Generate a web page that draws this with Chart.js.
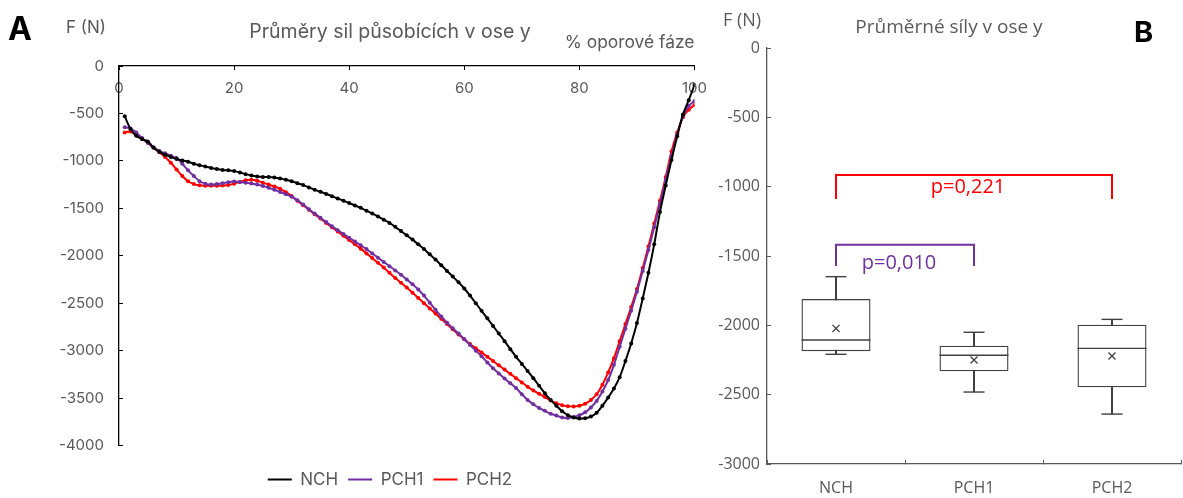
<!DOCTYPE html>
<html lang="cs">
<head>
<meta charset="UTF-8">
<title>Průměry sil v ose y</title>
<script src="https://cdn.jsdelivr.net/npm/chart.js"></script>
<style>
    body { margin: 0; background: #fff; }
    .wrap { position: relative; width: 1183px; height: 498px; overflow: hidden; }
    #chartA { position: absolute; left: 0; top: 0; }
    #chartB { position: absolute; left: 700px; top: 0; }
    .txt { position: absolute; white-space: nowrap; line-height: 1; }
    .panel { font-family: Inter, sans-serif; font-weight: 700; color: #000; }
</style>
</head>
<body>
<div class="wrap">
    <canvas id="chartB" width="483" height="498"></canvas>
    <canvas id="chartA" width="720" height="498"></canvas>
    <div class="txt panel" style="left:8px; top:12.6px; font-size:32px;">A</div>
    <div class="txt panel" style="left:1134px; top:17px; font-size:29px;">B</div>
    <div class="txt" style="left:66px; top:17.3px; font:17px Inter, sans-serif; color:#595959;">F (N)</div>
    <div class="txt" style="left:723px; top:7.3px; font:18px 'Open Sans', sans-serif; color:#595959;">F (N)</div>
</div>

<script>
// ---- graf A: průběh sil během opory (% oporové fáze) ----
const pct = [1,2,3,4,5,6,7,8,9,10,11,12,13,14,15,16,17,18,19,20,
    21,22,23,24,25,26,27,28,29,30,31,32,33,34,35,36,37,38,39,40,
    41,42,43,44,45,46,47,48,49,50,51,52,53,54,55,56,57,58,59,60,
    61,62,63,64,65,66,67,68,69,70,71,72,73,74,75,76,77,78,79,80,
    81,82,83,84,85,86,87,88,89,90,91,92,93,94,95,96,97,98,99,100];

const nch = [-530,-665,-735,-770,-795,-860,-905,-935,-960,-980,
    -995,-1010,-1030,-1045,-1060,-1075,-1085,-1095,-1100,-1108,
    -1122,-1140,-1155,-1165,-1170,-1170,-1174,-1185,-1200,-1215,
    -1235,-1255,-1280,-1305,-1325,-1348,-1372,-1396,-1420,-1445,
    -1470,-1495,-1525,-1555,-1585,-1620,-1655,-1695,-1740,-1785,
    -1830,-1880,-1930,-1985,-2040,-2100,-2160,-2220,-2280,-2345,
    -2420,-2500,-2580,-2660,-2740,-2820,-2900,-2985,-3065,-3140,
    -3215,-3290,-3370,-3450,-3520,-3580,-3640,-3680,-3705,-3715,
    -3712,-3695,-3655,-3580,-3495,-3400,-3280,-3110,-2925,-2710,
    -2450,-2180,-1880,-1540,-1260,-990,-740,-510,-360,-200];

const pch1 = [-645,-660,-700,-760,-810,-860,-895,-920,-945,-970,
    -1030,-1100,-1160,-1215,-1240,-1250,-1245,-1235,-1225,-1218,
    -1222,-1230,-1238,-1250,-1265,-1283,-1305,-1328,-1352,-1378,
    -1415,-1460,-1510,-1555,-1600,-1645,-1690,-1730,-1770,-1810,
    -1850,-1890,-1930,-1975,-2020,-2065,-2110,-2155,-2200,-2250,
    -2300,-2355,-2420,-2495,-2570,-2640,-2705,-2765,-2820,-2880,
    -2940,-3000,-3060,-3125,-3185,-3240,-3295,-3345,-3395,-3460,
    -3520,-3565,-3605,-3635,-3665,-3685,-3705,-3710,-3700,-3680,
    -3650,-3600,-3530,-3430,-3310,-3150,-2960,-2770,-2580,-2380,
    -2160,-1940,-1700,-1450,-1200,-950,-720,-530,-420,-370];

const pch2 = [-700,-690,-730,-770,-810,-860,-910,-960,-1020,-1090,
    -1160,-1215,-1245,-1258,-1262,-1263,-1262,-1260,-1255,-1240,
    -1222,-1205,-1200,-1210,-1230,-1250,-1270,-1295,-1330,-1370,
    -1420,-1468,-1515,-1562,-1608,-1655,-1700,-1745,-1790,-1835,
    -1880,-1925,-1975,-2025,-2075,-2125,-2180,-2235,-2285,-2335,
    -2390,-2445,-2500,-2555,-2610,-2665,-2720,-2775,-2830,-2880,
    -2930,-2975,-3020,-3065,-3110,-3155,-3200,-3245,-3290,-3335,
    -3380,-3420,-3455,-3490,-3525,-3555,-3575,-3585,-3588,-3580,
    -3560,-3520,-3460,-3360,-3230,-3080,-2900,-2720,-2540,-2350,
    -2130,-1900,-1660,-1420,-1170,-900,-700,-540,-460,-410];

const seriesNames = ['NCH', 'PCH1', 'PCH2'];
const seriesColors = ['#000000', '#7030A0', '#FF0000'];

// ---- graf B: krabicové grafy průměrných sil ----
const groups = ['NCH', 'PCH1', 'PCH2'];
const boxMin = [-2209, -2481, -2640];
const boxQ1 = [-2187, -2332, -2447];
const boxMedian = [-2106, -2216, -2166];
const boxQ3 = [-1810, -2147, -1995];
const boxMax = [-1649, -2050, -1957];
const boxMean = [-2022, -2250, -2221];

// p-hodnoty (závorky)
const sigFrom = ['NCH', 'NCH'];
const sigTo = ['PCH2', 'PCH1'];
const sigTop = [-916, -1418];
const sigLeg = [-1089, -1572];
const sigText = ['p=0,221', 'p=0,010'];
const sigTextY = [-1005, -1550];
const sigColors = ['#FF0000', '#7030A0'];

const gray = '#595959';
const fontA = 'Inter';
const fontB = 'Open Sans';
const plainNum = v => String(v);   // bez oddělovače tisíců

// popisky osy y se jinak ořezávají na šířku osy
const widenYLabels = {
    id: 'widenYLabels',
    afterLayout(chart) { chart.scales.y.left = 0; }
};

// ---------- A ----------
const lineSets = [nch, pch1, pch2].map((vals, i) => ({
    label: seriesNames[i],
    data: pct.map((p, j) => ({x: p, y: vals[j]})),
    borderColor: seriesColors[i],
    backgroundColor: seriesColors[i],
    borderWidth: 2,
    pointRadius: 2,
    pointHoverRadius: 2,
    pointBorderWidth: 0,
    tension: 0.3
}));

new Chart(document.getElementById('chartA'), {
    type: 'line',
    data: { datasets: lineSets },
    plugins: [widenYLabels],
    options: {
        responsive: false,
        animation: false,
        events: [],
        layout: { autoPadding: false, padding: { left: 82, right: 22, top: 0, bottom: 0 } },
        plugins: {
            title: {
                display: true,
                text: 'Průměry sil působících v ose y',
                color: gray,
                font: { family: fontA, size: 19.5, weight: 'normal' },
                padding: { top: 20.3, bottom: -11.1 }
            },
            legend: {
                position: 'bottom',
                title: { display: true, text: ' ', font: { size: 10 }, padding: { top: 0, bottom: 3.5 } },
                labels: {
                    usePointStyle: true,
                    pointStyle: 'line',
                    pointStyleWidth: 24,
                    padding: 10,
                    color: gray,
                    font: { family: fontA, size: 17 },
                    generateLabels: chart => Chart.defaults.plugins.legend.labels.generateLabels(chart)
                        .map(item => Object.assign(item, { lineWidth: 2 }))
                }
            },
            tooltip: { enabled: false }
        },
        scales: {
            x: {
                type: 'linear',
                position: 'top',
                min: 0,
                max: 100,
                ticks: { stepSize: 20, mirror: true, padding: 13, color: gray, font: { family: fontA, size: 15 } },
                grid: { drawOnChartArea: false, tickLength: -4, color: '#000' },
                border: { color: '#000', width: 1.3 },
                title: {
                    display: true,
                    text: '% oporové fáze',
                    align: 'end',
                    color: gray,
                    font: { family: fontA, size: 17.4 },
                    padding: { top: 0, bottom: 0 }
                },
                afterFit: s => { s.height = 33.4; }
            },
            y: {
                min: -4000,
                max: 0,
                ticks: { stepSize: 500, padding: 19, color: gray, font: { family: fontA, size: 15 }, callback: plainNum },
                grid: { drawOnChartArea: false, tickLength: -4, color: '#000' },
                border: { color: '#000', width: 1.3 },
                afterFit: s => { s.width = 37; }
            }
        }
    }
});

// ---------- B ----------
const boxLine = '#404040';

const bracketSets = sigText.map((t, i) => ({
    type: 'line',
    label: t,
    data: [
        {x: sigFrom[i], y: sigLeg[i]},
        {x: sigFrom[i], y: sigTop[i]},
        {x: sigTo[i], y: sigTop[i]},
        {x: sigTo[i], y: sigLeg[i]}
    ],
    borderColor: sigColors[i],
    borderWidth: 2,
    pointRadius: 0,
    tension: 0
}));

const pointMark = (label, data, style, radius, width) => ({
    type: 'line',
    label: label,
    data: data,
    showLine: false,
    pointStyle: style,
    pointRadius: radius,
    pointHoverRadius: radius,
    pointBorderWidth: width,
    borderColor: boxLine,
    backgroundColor: boxLine
});

const sigLabelPlugin = {
    id: 'sigLabels',
    afterDatasetsDraw(chart) {
        const {ctx, scales: {x, y}} = chart;
        ctx.save();
        ctx.font = '20px "' + fontB + '"';
        ctx.textAlign = 'center';
        ctx.textBaseline = 'middle';
        sigText.forEach((t, i) => {
            const x0 = x.getPixelForValue(groups.indexOf(sigFrom[i]));
            const x1 = x.getPixelForValue(groups.indexOf(sigTo[i]));
            ctx.fillStyle = sigColors[i];
            ctx.fillText(t, (x0 + x1) / 2 - 6, y.getPixelForValue(sigTextY[i]));
        });
        ctx.restore();
    }
};

new Chart(document.getElementById('chartB'), {
    type: 'bar',
    data: {
        labels: groups,
        datasets: [
            ...bracketSets,
            pointMark('průměr', boxMean, 'crossRot', 5, 1.3),
            pointMark('medián', boxMedian, 'line', 34.5, 1.4),
            pointMark('max', boxMax, 'line', 10.5, 1.4),
            pointMark('min', boxMin, 'line', 10.5, 1.4),
            {
                label: 'kvartily',
                data: groups.map((g, i) => [boxQ1[i], boxQ3[i]]),
                backgroundColor: '#ffffff',
                borderColor: boxLine,
                borderWidth: 1.4,
                borderSkipped: false,
                grouped: false,
                barPercentage: 0.5,
                categoryPercentage: 1
            },
            {
                label: 'rozsah',
                data: groups.map((g, i) => [boxMin[i], boxMax[i]]),
                backgroundColor: boxLine,
                borderWidth: 0,
                grouped: false,
                barThickness: 1.4
            }
        ]
    },
    plugins: [sigLabelPlugin, widenYLabels],
    options: {
        responsive: false,
        animation: false,
        events: [],
        layout: { autoPadding: false, padding: { left: 17, right: 2, top: 0, bottom: 0 } },
        plugins: {
            title: {
                display: true,
                text: 'Průměrné síly v ose y',
                color: gray,
                font: { family: fontB, size: 19, weight: 'normal' },
                padding: { top: 16.6, bottom: 8.6 }
            },
            legend: { display: false },
            tooltip: { enabled: false }
        },
        scales: {
            x: {
                ticks: { padding: 18.4, color: gray, font: { family: fontB, size: 16 } },
                grid: { drawOnChartArea: false, tickLength: -4, color: gray },
                border: { color: gray, width: 1.3 },
                afterFit: s => { s.height = 34; }
            },
            y: {
                min: -3000,
                max: 0,
                ticks: { stepSize: 500, padding: 11, color: gray, font: { family: fontB, size: 16 }, callback: plainNum },
                grid: { drawOnChartArea: false, tickLength: -4, color: gray },
                border: { color: gray, width: 1.3 },
                afterFit: s => { s.width = 50; }
            }
        }
    }
});
</script>
</body>
</html>
